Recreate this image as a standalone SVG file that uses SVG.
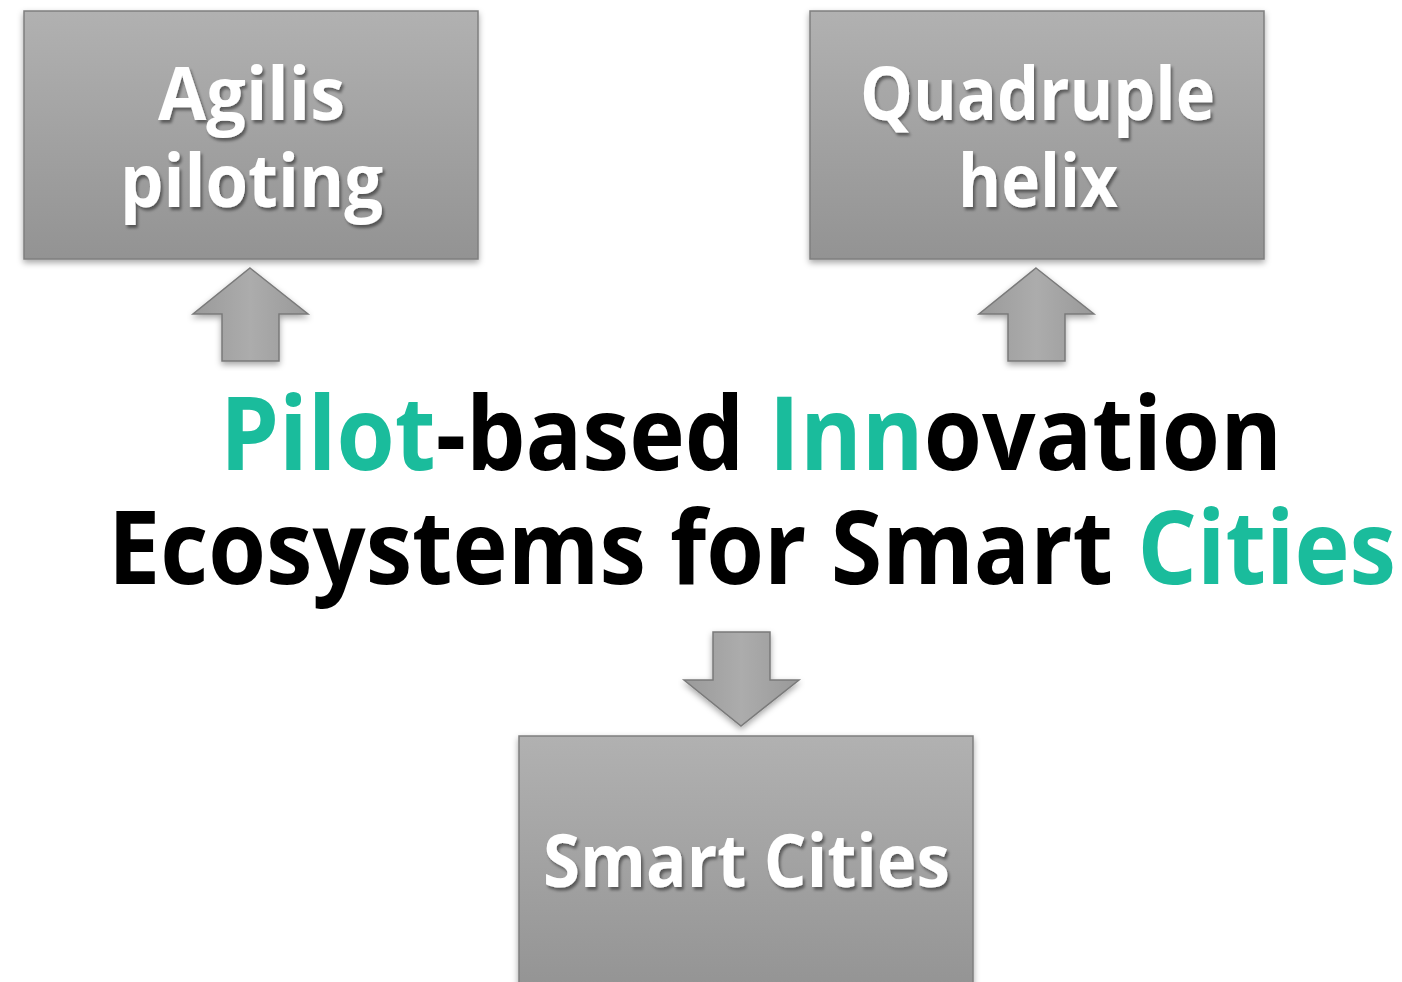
<svg xmlns="http://www.w3.org/2000/svg" width="1402" height="982" viewBox="0 0 1402 982">
<defs>
<linearGradient id="boxg" x1="0" y1="0" x2="0" y2="1">
<stop offset="0" stop-color="#b1b1b1"/>
<stop offset="1" stop-color="#939393"/>
</linearGradient>
<linearGradient id="arrg" x1="0" y1="0" x2="1" y2="0">
<stop offset="0" stop-color="#9a9a9a"/>
<stop offset="0.5" stop-color="#acacac"/>
<stop offset="1" stop-color="#999999"/>
</linearGradient>
<filter id="bsh" x="-5%" y="-5%" width="110%" height="115%">
<feDropShadow dx="0" dy="3" stdDeviation="3" flood-color="#000" flood-opacity="0.35"/>
</filter>
<filter id="tsh" x="-5%" y="-10%" width="110%" height="130%">
<feDropShadow dx="2" dy="3" stdDeviation="1.5" flood-color="#000" flood-opacity="0.45"/>
</filter>
</defs>
<style>
.box{fill:url(#boxg);stroke:#7f7f7f;stroke-width:1.5}
.arr{fill:url(#arrg);stroke:#7a7a7a;stroke-width:1.5;stroke-linejoin:miter}
.bt{font-family:"Open Sans","Noto Sans","DejaVu Sans",sans-serif;font-weight:700;fill:#fff;font-size:73px}
.tt{font-family:"Open Sans","Noto Sans","DejaVu Sans",sans-serif;font-weight:700;fill:#000;font-size:103px}
.teal{fill:#1abc9c}
</style>
<rect width="1402" height="982" fill="#fff"/>
<g id="agilis">
<rect class="box" x="24" y="11" width="454" height="248" filter="url(#bsh)"/>
<g filter="url(#tsh)"><text class="bt" x="158" y="120" textLength="187" lengthAdjust="spacingAndGlyphs">Agilis</text><text class="bt" x="120" y="207" textLength="263" lengthAdjust="spacingAndGlyphs">piloting</text></g>
</g>
<g id="quadruple">
<rect class="box" x="810" y="11" width="454" height="248" filter="url(#bsh)"/>
<g filter="url(#tsh)"><text class="bt" x="860" y="120" textLength="355" lengthAdjust="spacingAndGlyphs">Quadruple</text><text class="bt" x="958" y="207" textLength="160" lengthAdjust="spacingAndGlyphs">helix</text></g>
</g>
<g id="smartcities">
<rect class="box" x="519" y="736" width="454" height="260" filter="url(#bsh)"/>
<g filter="url(#tsh)"><text class="bt" x="543" y="887" textLength="407" lengthAdjust="spacingAndGlyphs">Smart Cities</text></g>
</g>
<g id="title">
<text class="tt" x="220" y="470" textLength="1062" lengthAdjust="spacingAndGlyphs"><tspan class="teal">Pilot</tspan>-based <tspan class="teal">Inn</tspan>ovation</text>
<text class="tt" x="108" y="584" textLength="1288" lengthAdjust="spacingAndGlyphs">Ecosystems for Smart <tspan class="teal">Cities</tspan></text>
</g>
<g id="connectors">
<path class="arr" filter="url(#bsh)" d="M250,268 L308,314 L279,314 L279,361 L222,361 L222,314 L193,314 Z"/>
<path class="arr" filter="url(#bsh)" d="M1036,268 L1094,314 L1065,314 L1065,361 L1008,361 L1008,314 L979,314 Z"/>
<path class="arr" filter="url(#bsh)" d="M713,632 L770,632 L770,680 L799,680 L741,726 L684,680 L713,680 Z"/>
</g>
</svg>
